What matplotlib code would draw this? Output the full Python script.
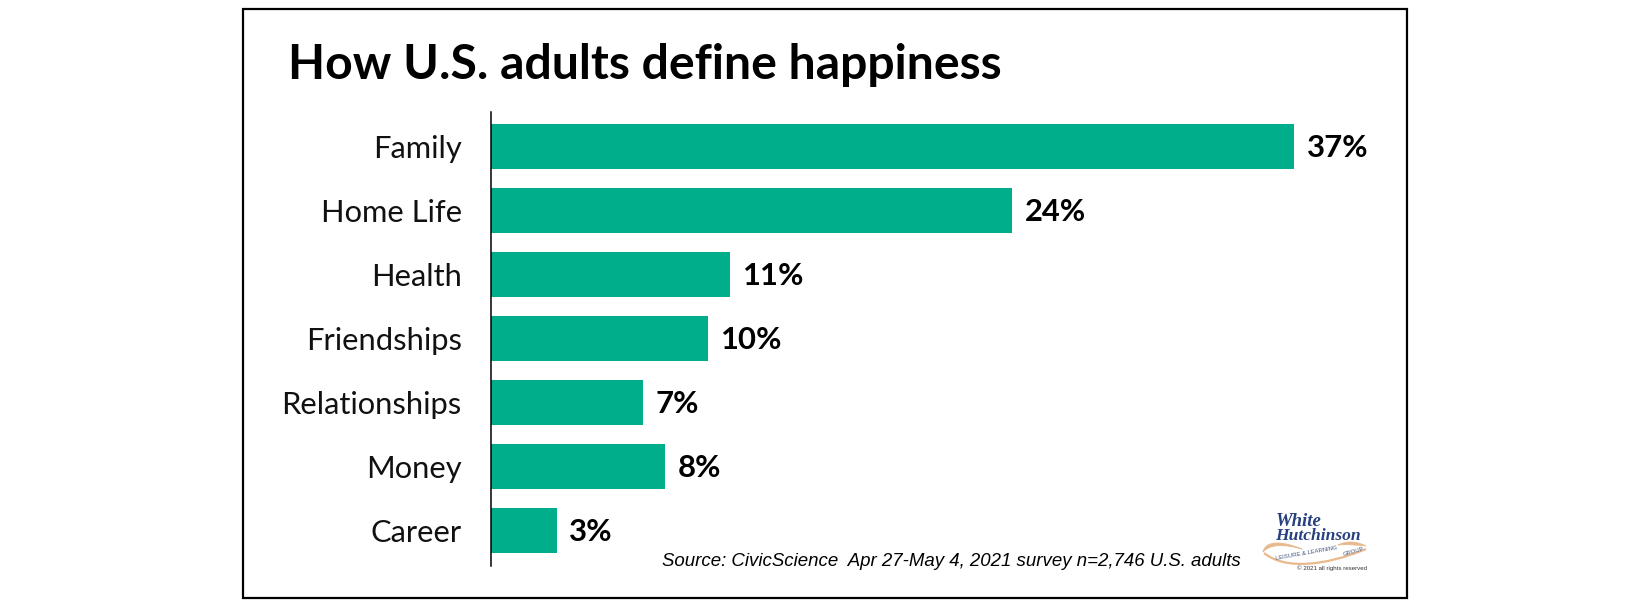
import matplotlib
matplotlib.use("Agg")
import matplotlib.pyplot as plt
from matplotlib.patches import Rectangle, PathPatch
from matplotlib.path import Path

categories = ["Family", "Home Life", "Health", "Friendships", "Relationships", "Money", "Career"]
values = [37, 24, 11, 10, 7, 8, 3]

W, H = 1650, 609
GREEN = "#00AE8C"
NAVY = "#27407F"
TAN = "#E8B98C"

plt.rcParams["font.family"] = ["Lato", "DejaVu Sans"]

fig = plt.figure(figsize=(W / 100, H / 100), dpi=100)


# pixel position in the picture -> figure fraction
def px(x, y):
    return x / W, 1 - y / H


# outer frame
fig.add_artist(Rectangle(px(243, 598), (1407 - 243) / W, (598 - 9) / H,
                         transform=fig.transFigure, fill=False, ec="black", lw=1.6))

# axes: x=491 is 0, 37% ends at 1294
ax = fig.add_axes([491.5 / W, 1 - 566 / H, (1400 - 491.5) / W, (566 - 112) / H])
y = list(range(len(categories)))
ax.barh(y, values, height=0.7, color=GREEN)
ax.set_ylim(6.55, -0.537)
ax.set_xlim(0, 37 * (1400 - 491.5) / (1294 - 491.5))
ax.set_yticks(y)
ax.set_yticklabels(categories, fontsize=22.2, color="#111111")
ax.set_xticks([])
ax.tick_params(axis="y", length=0, pad=21.5)
for s in ["top", "right", "bottom"]:
    ax.spines[s].set_visible(False)
ax.spines["left"].set_linewidth(1.1)
ax.patch.set_alpha(0)

for i, v in enumerate(values):
    ax.annotate(f"{v}%", (v, i), xytext=(9, -1.2), textcoords="offset points",
                va="center", ha="left", fontsize=22.3, fontweight="bold", color="black")

fig.text(*px(288, 65), "How U.S. adults define happiness", fontsize=34.7,
         fontweight="bold", va="center", ha="left", color="black")
fig.text(*px(1241, 562), "Source: CivicScience  Apr 27-May 4, 2021 survey n=2,746 U.S. adults",
         fontsize=13.45, style="italic", family="Liberation Sans", va="center", ha="right", color="black")

# logo swoosh, three tan ribbons around the small text
C4 = Path.CURVE4
upper = Path([px(1263, 552), px(1266, 540), px(1282, 541), px(1302, 549),
              px(1284, 544), px(1270, 544), px(1263, 552)],
             [Path.MOVETO, C4, C4, C4, C4, C4, C4])
right = Path([px(1338, 545), px(1348, 540), px(1358, 542), px(1366, 546),
              px(1356, 545), px(1348, 544), px(1338, 545)],
             [Path.MOVETO, C4, C4, C4, C4, C4, C4])
lower = Path([px(1264, 553), px(1285, 570), px(1325, 566), px(1366, 549)],
             [Path.MOVETO, C4, C4, C4])
fig.add_artist(PathPatch(upper, transform=fig.transFigure, fc=TAN, ec=TAN, lw=0.6))
fig.add_artist(PathPatch(right, transform=fig.transFigure, fc=TAN, ec=TAN, lw=0.6))
fig.add_artist(PathPatch(lower, transform=fig.transFigure, fc="none", ec=TAN, lw=1.6))

# logo text
fig.text(*px(1299, 521), "White", fontsize=13.5, style="italic", fontweight="bold",
         family="Liberation Serif", color=NAVY, va="center", ha="center")
fig.text(*px(1318, 536), "Hutchinson", fontsize=12.6, style="italic", fontweight="bold",
         family="Liberation Serif", color=NAVY, va="center", ha="center")
fig.text(*px(1306, 553), "LEISURE & LEARNING", fontsize=4.2, color="#44557F", rotation=10,
         va="center", ha="center", family="Liberation Sans")
fig.text(*px(1354, 552), "GROUP", fontsize=4.2, color="#44557F", rotation=16,
         va="center", ha="center", family="Liberation Sans")
fig.text(*px(1332, 568), "© 2021 all rights reserved", fontsize=4.4, color="#333333",
         va="center", ha="center", family="Liberation Sans")

fig.savefig("out.png", dpi=100)
